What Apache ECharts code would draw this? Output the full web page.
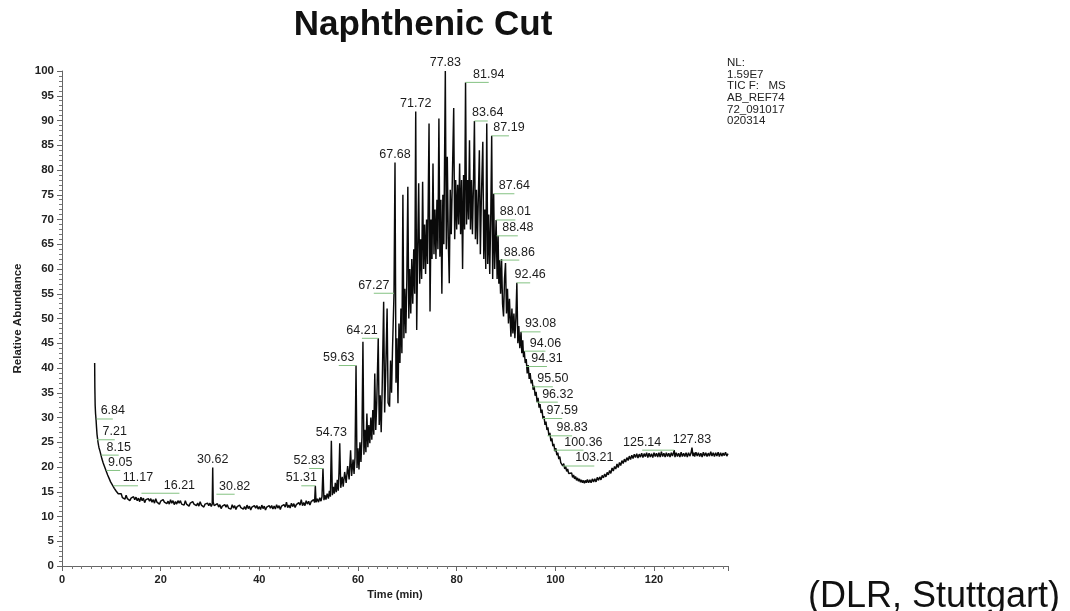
<!DOCTYPE html>
<html>
<head>
<meta charset="utf-8">
<script src="https://cdn.jsdelivr.net/npm/echarts@6/dist/echarts.min.js"></script>
<style>
html,body{margin:0;padding:0;background:#fff;}
#chart{width:1070px;height:611px;}
</style>
</head>
<body>
<div id="chart"></div>
<script>
// ---- data ----
const chartTitle = 'Naphthenic Cut';
const xTicks = [0, 20, 40, 60, 80, 100, 120];
const infoLines = ['NL:', '1.59E7', 'TIC F:   MS', 'AB_REF74', '72_091017', '020314'];
const sourceNote = '(DLR, Stuttgart)';

// [time (min), relative abundance (%)]
const trace = [
 [6.62,41.0],[6.66,36.0],[6.72,32.5],[6.8,30.8],[6.9,29.6],[7.0,28.0],[7.1,26.6],[7.2,25.8],[7.3,25.0],[7.4,24.4],
 [7.5,23.9],[7.6,24.1],[7.7,23.2],[7.8,23.0],[7.9,22.4],[8.0,22.5],[8.1,21.6],[8.2,21.7],[8.35,20.8],[8.5,20.8],
 [8.65,20.0],[8.8,19.9],[8.95,19.2],[9.1,19.2],[9.25,18.4],[9.4,18.5],[9.55,17.7],[9.7,17.8],[9.85,17.0],[10.0,17.2],
 [10.2,16.4],[10.4,16.6],[10.6,15.7],[10.8,15.9],[11.0,15.1],[11.2,15.4],[11.4,14.6],[11.6,15.0],[11.8,14.3],[12.0,14.6],
 [12.25,13.8],[12.5,14.2],[12.75,13.5],[13.0,14.3],[13.25,13.6],[13.5,14.0],[13.75,13.2],[14.0,13.7],[14.25,13.3],[14.5,14.0],
 [14.75,13.4],[15.0,13.9],[15.25,13.2],[15.5,13.7],[15.75,13.0],[16.0,13.9],[16.25,13.2],[16.5,13.7],[16.75,12.8],[17.0,13.4],
 [17.25,13.0],[17.5,13.6],[17.75,13.1],[18.0,13.6],[18.25,12.9],[18.5,13.4],[18.75,12.7],[19.0,13.6],[19.25,12.9],[19.5,13.3],
 [19.75,12.5],[20.0,13.1],[20.25,12.7],[20.5,13.4],[20.75,12.9],[21.0,13.3],[21.25,12.6],[21.5,13.1],[21.75,12.5],[22.0,13.4],
 [22.25,12.7],[22.5,13.2],[22.75,12.4],[23.0,13.0],[23.25,12.5],[23.5,13.2],[23.75,12.7],[24.0,13.2],[24.25,12.5],[24.5,12.9],
 [24.75,12.3],[25.0,13.2],[25.25,12.5],[25.5,12.9],[25.75,12.1],[26.0,12.7],[26.25,12.3],[26.5,13.0],[26.75,12.5],[27.0,12.9],
 [27.25,12.2],[27.5,12.7],[27.75,12.1],[28.0,13.0],[28.25,12.3],[28.5,12.7],[28.75,11.9],[29.0,12.5],[29.25,12.1],[29.5,12.7],
 [29.75,12.2],[30.0,12.7],[30.25,12.0],[30.45,12.5],[30.55,19.9],[30.65,12.9],[30.85,12.2],[31.0,12.4],[31.25,11.8],[31.5,12.6],
 [31.75,11.9],[32.0,12.4],[32.25,11.6],[32.5,12.1],[32.75,11.7],[33.0,12.4],[33.25,11.9],[33.5,12.4],[33.75,11.7],[34.0,12.1],
 [34.25,11.5],[34.5,12.4],[34.75,11.7],[35.0,12.2],[35.25,11.4],[35.5,12.0],[35.75,11.6],[36.0,12.3],[36.25,11.8],[36.5,12.2],
 [36.75,11.5],[37.0,12.0],[37.25,11.4],[37.5,12.3],[37.75,11.6],[38.0,12.1],[38.25,11.3],[38.5,11.9],[38.75,11.5],[39.0,12.2],
 [39.25,11.7],[39.5,12.2],[39.75,11.5],[40.0,12.0],[40.25,11.4],[40.5,12.3],[40.75,11.6],[41.0,12.1],[41.25,11.3],[41.5,11.9],
 [41.75,11.5],[42.0,12.2],[42.25,11.7],[42.5,12.2],[42.75,11.5],[43.0,12.1],[43.25,11.5],[43.5,12.4],[43.75,11.7],[44.0,12.2],
 [44.25,11.4],[44.5,12.1],[44.75,11.7],[45.0,12.4],[45.25,11.9],[45.5,12.9],[45.75,11.8],[46.0,12.3],[46.25,11.7],[46.5,12.7],
 [46.75,12.0],[47.0,12.6],[47.25,11.8],[47.5,12.4],[47.75,12.1],[48.0,12.8],[48.25,12.3],[48.5,13.4],[48.75,12.2],[49.0,12.8],
 [49.25,12.2],[49.5,13.2],[49.75,12.5],[50.0,13.1],[50.25,12.3],[50.5,13.0],[50.75,12.6],[51.0,13.4],[51.2,12.8],[51.35,16.2],
 [51.5,12.9],[51.75,13.6],[52.0,12.9],[52.25,13.8],[52.5,13.1],[52.7,14.0],[52.9,19.7],[53.1,13.3],[53.3,14.3],[53.5,13.4],
 [53.75,14.6],[54.0,13.6],[54.2,15.2],[54.4,14.0],[54.6,25.3],[54.8,14.3],[55.0,16.0],[55.2,14.6],[55.4,16.8],[55.6,14.9],
 [55.8,17.4],[56.0,15.2],[56.15,19.0],[56.3,24.8],[56.5,15.8],[56.8,18.0],[57.0,16.0],[57.3,19.0],[57.6,16.8],[57.9,20.2],
 [58.2,17.5],[58.5,23.4],[58.7,18.2],[59.0,21.5],[59.2,18.6],[59.4,22.0],[59.6,40.5],[59.8,19.8],[60.0,23.8],[60.2,19.5],
 [60.4,25.0],[60.6,21.0],[60.8,26.0],[61.0,45.3],[61.2,22.5],[61.4,27.5],[61.6,23.0],[61.8,30.8],[62.0,24.0],[62.2,28.5],
 [62.4,24.8],[62.6,30.0],[62.8,25.5],[63.0,31.5],[63.2,26.5],[63.4,38.9],[63.6,27.5],[63.8,33.0],[64.1,46.0],[64.3,28.5],
 [64.5,34.5],[64.7,27.0],[64.9,36.0],[65.2,53.4],[65.4,31.0],[65.6,38.5],[65.9,52.0],[66.1,33.0],[66.4,32.2],[66.6,41.5],
 [66.8,35.0],[67.0,44.0],[67.3,55.1],[67.5,81.5],[67.7,37.0],[67.9,46.0],[68.1,32.9],[68.3,49.0],[68.5,41.0],[68.7,52.0],
 [68.9,43.0],[69.1,75.0],[69.3,46.0],[69.5,56.0],[69.7,47.0],[69.9,58.0],[70.1,76.6],[70.3,50.0],[70.5,60.0],[70.7,51.0],
 [70.9,62.0],[71.1,53.0],[71.3,64.0],[71.5,55.0],[71.7,91.8],[71.9,47.7],[72.1,64.0],[72.3,77.3],[72.5,57.0],[72.7,66.0],
 [72.9,58.0],[73.1,77.6],[73.3,60.0],[73.5,69.0],[73.7,59.0],[73.9,70.0],[74.1,61.0],[74.4,89.4],[74.6,51.4],[74.8,70.0],
 [75.0,62.0],[75.2,81.3],[75.4,63.0],[75.6,72.0],[75.8,62.0],[76.0,74.0],[76.2,64.0],[76.4,90.4],[76.6,62.5],[76.8,74.0],
 [77.0,55.0],[77.2,75.0],[77.4,65.0],[77.7,100.0],[77.9,64.0],[78.1,82.7],[78.3,66.0],[78.5,57.1],[78.7,76.0],[78.9,67.0],
 [79.1,77.0],[79.4,92.5],[79.6,66.0],[79.8,78.0],[80.0,68.0],[80.2,77.0],[80.4,69.0],[80.6,81.3],[80.8,67.0],[81.0,78.0],
 [81.2,60.0],[81.4,79.0],[81.6,68.0],[81.8,97.7],[82.0,69.0],[82.2,78.0],[82.4,70.0],[82.6,86.0],[82.8,68.0],[83.0,78.0],
 [83.2,67.0],[83.4,77.0],[83.6,89.9],[83.8,66.0],[84.0,76.0],[84.2,65.0],[84.4,75.0],[84.6,84.0],[84.8,63.0],[85.0,74.0],
 [85.3,85.7],[85.5,62.0],[85.7,72.0],[85.9,60.0],[86.1,89.4],[86.3,61.0],[86.5,71.0],[86.7,59.0],[86.9,70.0],[87.1,86.9],
 [87.3,58.0],[87.5,75.2],[87.7,60.0],[88.0,69.9],[88.2,58.0],[88.4,66.7],[88.55,57.0],[88.7,61.8],[88.9,55.0],[89.1,62.0],
 [89.3,53.0],[89.5,50.4],[89.7,58.0],[89.9,61.2],[90.1,51.0],[90.3,56.0],[90.5,49.0],[90.7,54.0],[91.0,46.3],[91.2,52.0],
 [91.4,47.0],[91.6,51.0],[91.8,46.0],[92.0,50.0],[92.2,57.2],[92.4,45.0],[92.6,48.5],[92.8,44.0],[93.05,47.3],[93.2,43.0],
 [93.4,45.6],[93.55,42.2],[93.7,43.4],[93.9,41.0],[94.1,41.8],[94.3,38.9],[94.5,40.6],[94.7,37.8],[94.9,39.0],[95.1,36.9],
 [95.3,37.6],[95.5,35.6],[95.7,36.4],[95.9,34.4],[96.1,35.2],[96.3,33.1],[96.5,34.0],[96.7,32.0],[96.9,32.7],[97.1,30.9],
 [97.3,31.6],[97.5,29.7],[97.7,30.3],[97.9,28.5],[98.1,29.2],[98.3,27.5],[98.5,28.0],[98.7,26.3],[98.9,26.9],[99.1,25.2],
 [99.3,25.8],[99.5,24.2],[99.7,24.7],[99.9,23.2],[100.1,23.8],[100.3,22.4],[100.5,22.9],[100.7,21.6],[100.9,22.1],[101.1,20.9],
 [101.3,21.3],[101.5,20.2],[101.7,20.7],[101.9,19.6],[102.1,20.1],[102.3,19.1],[102.5,19.6],[102.7,18.7],[102.9,19.1],[103.1,18.3],
 [103.3,18.8],[103.5,17.9],[103.7,18.4],[103.9,17.6],[104.1,18.1],[104.3,17.3],[104.5,17.8],[104.7,17.1],[104.9,17.6],[105.1,16.9],
 [105.3,17.4],[105.5,16.8],[105.7,17.3],[105.9,16.7],[106.1,17.3],[106.3,16.8],[106.5,17.5],[106.75,16.8],[107.0,17.4],[107.25,16.8],
 [107.5,17.6],[107.75,17.0],[108.0,17.6],[108.25,17.0],[108.5,17.9],[108.75,17.3],[109.0,18.0],[109.25,17.4],[109.5,18.3],[109.75,17.8],
 [110.0,18.6],[110.25,18.0],[110.5,18.9],[110.75,18.4],[111.0,19.3],[111.25,18.7],[111.5,19.8],[111.75,19.2],[112.0,20.1],[112.25,19.6],
 [112.5,20.6],[112.75,19.9],[113.0,20.9],[113.25,20.3],[113.5,21.3],[113.75,20.7],[114.0,21.6],[114.25,21.0],[114.5,21.9],[114.75,21.3],
 [115.0,22.2],[115.25,21.5],[115.5,22.4],[115.75,21.7],[116.0,22.6],[116.25,21.9],[116.5,22.7],[116.75,21.8],[117.0,22.6],[117.25,22.0],
 [117.5,22.8],[117.75,21.9],[118.0,22.7],[118.25,22.1],[118.5,22.9],[118.75,21.9],[119.0,22.8],[119.25,22.0],[119.5,22.7],[119.75,21.9],
 [120.0,22.9],[120.25,22.1],[120.5,22.8],[120.75,22.0],[121.0,22.9],[121.25,22.0],[121.5,23.1],[121.75,22.1],[122.0,22.8],[122.25,22.0],
 [122.5,22.9],[122.75,22.1],[123.0,22.8],[123.25,22.0],[123.5,22.9],[123.75,22.2],[124.1,23.4],[124.25,22.0],[124.5,22.9],[124.75,22.1],
 [125.0,22.8],[125.25,22.0],[125.5,23.0],[125.75,22.1],[126.0,22.8],[126.25,22.1],[126.5,22.9],[126.75,22.0],[127.0,22.9],[127.25,22.2],
 [127.5,22.8],[127.7,23.9],[127.9,22.2],[128.1,22.9],[128.25,22.1],[128.5,23.0],[128.75,22.2],[129.0,22.9],[129.25,22.1],[129.5,22.8],
 [129.75,22.0],[130.0,23.0],[130.25,22.2],[130.5,22.9],[130.75,22.1],[131.0,22.8],[131.25,22.2],[131.5,23.1],[131.75,22.2],[132.0,22.9],
 [132.25,22.1],[132.5,22.9],[132.75,22.2],[133.0,23.0],[133.25,22.1],[133.5,22.9],[133.75,22.2],[134.0,22.8],[134.25,22.3],[134.5,23.0],
 [134.75,22.2],[135.0,22.7]
];

// peak annotations
const labelText  = ['6.84','7.21','8.15','9.05','11.17','16.21','30.62','30.82','51.31','52.83','54.73','59.63','64.21','67.27','67.68','71.72','77.83','81.94','83.64','87.19','87.64','88.01','88.48','88.86','92.46','93.08','94.06','94.31','95.50','96.32','97.59','98.83','100.36','103.21','125.14','127.83'];
const labelPeakT = [7.0,7.1,8.0,9.0,10.4,16.1,30.55,31.3,51.35,52.9,54.6,59.6,64.1,67.3,67.5,71.7,77.7,81.8,83.6,87.1,87.5,88.0,88.1,88.7,92.2,93.05,93.7,94.1,95.3,96.2,97.4,98.4,99.6,101.5,124.1,127.7];
const labelPeakV = [29.7,25.5,22.4,19.3,16.2,14.7,19.9,14.5,16.2,19.7,25.3,40.5,46.0,55.1,81.5,91.8,100,97.7,89.9,86.9,75.2,69.9,66.7,61.8,57.2,47.3,43.4,40.3,36.2,33.1,29.8,26.3,23.4,20.2,23.4,23.9];
const labelTextT = [10.3,10.7,11.5,11.8,15.4,23.8,30.55,35.0,48.5,50.1,54.6,56.1,60.8,63.2,67.5,71.7,77.7,86.5,86.3,90.6,91.7,91.9,92.4,92.7,94.9,97.0,98.0,98.3,99.5,100.5,101.4,103.4,105.7,107.9,117.6,127.7];

// ---- chart ----
const FONT = '"Liberation Sans", Arial, sans-serif';
const chart = echarts.init(document.getElementById('chart'), null, {renderer: 'canvas'});

const labelData = labelText.map((t, i) => [labelPeakT[i], labelPeakV[i], labelTextT[i]]);

const option = {
  backgroundColor: '#fff',
  animation: false,
  title: {
    text: chartTitle,
    left: 418, top: 3, textAlign: 'center',
    textStyle: {fontFamily: FONT, fontSize: 35, fontWeight: 'bold', color: '#111'}
  },
  grid: {left: 62, right: 342, top: 71, bottom: 45, containLabel: false, outerBoundsMode: 'none'},
  xAxis: {
    type: 'value', min: 0, max: 135, interval: 20,
    name: 'Time (min)', nameLocation: 'middle', nameGap: 23,
    nameTextStyle: {fontFamily: FONT, fontSize: 11, fontWeight: 'bold', color: '#222'},
    axisLine: {lineStyle: {color: '#666', width: 1}},
    axisTick: {length: 5, lineStyle: {color: '#666'}},
    minorTick: {show: true, splitNumber: 10, length: 3, lineStyle: {color: '#777'}},
    splitLine: {show: false},
    axisLabel: {
      margin: 8, fontFamily: FONT, fontSize: 11, fontWeight: 'bold', color: '#222',
      showMaxLabel: false,
      formatter: v => xTicks.indexOf(v) >= 0 ? String(v) : ''
    }
  },
  yAxis: {
    type: 'value', min: 0, max: 100, interval: 5,
    name: 'Relative Abundance', nameLocation: 'middle', nameGap: 30, nameRotate: 90,
    nameTextStyle: {fontFamily: FONT, fontSize: 11.5, fontWeight: 'bold', color: '#222'},
    axisLine: {show: true, lineStyle: {color: '#666', width: 1}},
    axisTick: {show: true, length: 5, lineStyle: {color: '#666'}},
    minorTick: {show: true, splitNumber: 5, length: 3, lineStyle: {color: '#777'}},
    splitLine: {show: false},
    axisLabel: {margin: 8, fontFamily: FONT, fontSize: 11.5, fontWeight: 'bold', color: '#222'}
  },
  series: [
    {
      type: 'line', data: trace, showSymbol: false, symbol: 'none',
      lineStyle: {color: '#0a0a0a', width: 1.45}, clip: true, z: 2
    },
    {
      type: 'custom', data: labelData, clip: false, z: 3,
      encode: {x: 0, y: 1},
      renderItem: (params, api) => {
        const p = api.coord([api.value(0), api.value(1)]);
        const q = api.coord([api.value(2), api.value(1)]);
        const children = [];
        if (Math.abs(q[0] - p[0]) > 4) {
          children.push({type: 'line', shape: {x1: p[0], y1: p[1], x2: q[0], y2: p[1]},
            style: {stroke: '#84c282', lineWidth: 1}});
        }
        children.push({type: 'text', style: {
          text: labelText[params.dataIndex], x: q[0], y: p[1] - 8,
          align: 'center', verticalAlign: 'middle',
          fontFamily: FONT, fontSize: 12.5, fill: '#1c1c1c'
        }});
        return {type: 'group', children};
      }
    }
  ],
  graphic: [
    {type: 'text', left: 727, top: 57, style: {
      text: infoLines.join('\n'), fontFamily: FONT, fontSize: 11.5, lineHeight: 11.6, fill: '#222'
    }},
    {type: 'text', left: 808, top: 579, style: {
      text: sourceNote, fontFamily: FONT, fontSize: 36, fill: '#111'
    }}
  ]
};
chart.setOption(option);
</script>
</body>
</html>
